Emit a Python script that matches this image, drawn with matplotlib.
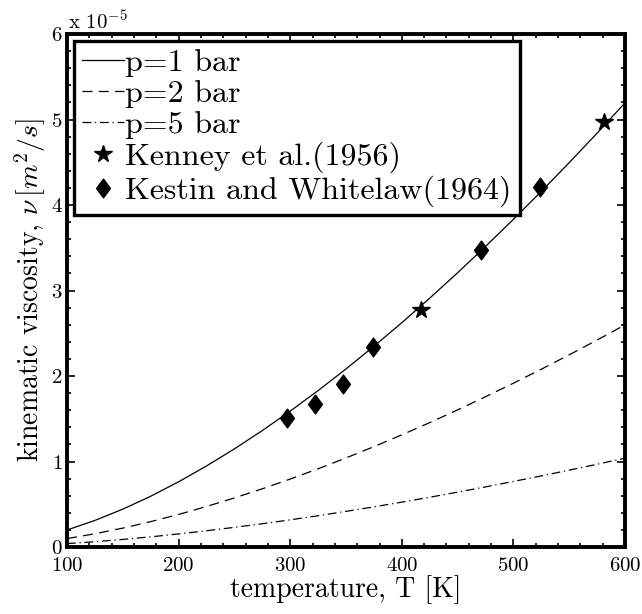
import numpy as np
import matplotlib
matplotlib.use("Agg")
import matplotlib.pyplot as plt
from matplotlib.path import Path
from matplotlib.ticker import AutoMinorLocator, MultipleLocator

# Temperature grid [K] and kinematic viscosity (units of 1e-5 m^2/s)
temp = [100, 125, 150, 175, 200, 225, 250, 275, 300, 325, 350,
        375, 400, 425, 450, 475, 500, 525, 550, 575, 600]
nu_1bar = [0.199, 0.311, 0.443, 0.594, 0.763, 0.948, 1.148, 1.362, 1.590, 1.830, 2.083,
           2.348, 2.624, 2.911, 3.208, 3.516, 3.833, 4.160, 4.496, 4.841, 5.195]
nu_2bar = [0.099, 0.155, 0.221, 0.297, 0.381, 0.474, 0.574, 0.681, 0.795, 0.915, 1.042,
           1.174, 1.312, 1.455, 1.604, 1.758, 1.916, 2.080, 2.248, 2.421, 2.598]
nu_5bar = [0.040, 0.062, 0.089, 0.119, 0.153, 0.190, 0.230, 0.272, 0.318, 0.366, 0.417,
           0.470, 0.525, 0.582, 0.642, 0.703, 0.767, 0.832, 0.899, 0.968, 1.039]

# Measured points
kenney_T = [417, 581]
kenney_nu = [2.77, 4.97]
kestin_T = [297, 322, 347, 374.5, 470.5, 524]
kestin_nu = [1.51, 1.67, 1.91, 2.34, 3.47, 4.21]

labels = ["p=1 bar", "p=2 bar", "p=5 bar", "Kenney et al.(1956)", "Kestin and Whitelaw(1964)"]

plt.rcParams["font.family"] = "cmr10"
plt.rcParams["mathtext.fontset"] = "cm"
plt.rcParams["axes.unicode_minus"] = False
plt.rcParams["axes.formatter.use_mathtext"] = True

# MATLAB-style diamond (a bit wider than the thin one)
diamond = Path([(0, 1), (0.74, 0), (0, -1), (-0.74, 0), (0, 1)],
               [Path.MOVETO, Path.LINETO, Path.LINETO, Path.LINETO, Path.CLOSEPOLY])

fig = plt.figure(figsize=(6.42, 6.14), dpi=100)
ax = fig.add_axes([0.1044, 0.1091, 0.8692, 0.8355])

ax.plot(temp, nu_1bar, color="black", lw=0.9, label=labels[0])
ax.plot(temp, nu_2bar, color="black", lw=0.9, linestyle=(0, (8, 5)), label=labels[1])
ax.plot(temp, nu_5bar, color="black", lw=0.9, linestyle=(0, (7, 3, 1, 3)), label=labels[2])
ax.plot(kenney_T, kenney_nu, linestyle="none", marker="*", color="black",
        markersize=13, label=labels[3])
ax.plot(kestin_T, kestin_nu, linestyle="none", marker=diamond, color="black",
        markersize=13.5, label=labels[4])

ax.set_xlim(100, 600)
ax.set_ylim(0, 6)
ax.xaxis.set_major_locator(MultipleLocator(100))
ax.yaxis.set_major_locator(MultipleLocator(1))
ax.xaxis.set_minor_locator(AutoMinorLocator(5))
ax.yaxis.set_minor_locator(AutoMinorLocator(5))
ax.tick_params(which="both", direction="in", top=True, right=True, labelsize=15, width=1.2)
ax.tick_params(which="major", length=6)
ax.tick_params(which="minor", length=3)
ax.tick_params(axis="x", which="major", pad=7)
ax.tick_params(axis="y", which="major", pad=3)
for sp in ax.spines.values():
    sp.set_linewidth(2.8)

ax.set_xlabel("temperature, T [K]", fontsize=20, labelpad=0)
ax.set_ylabel(r"kinematic viscosity, $\nu\,[m^2/s]$", fontsize=20, labelpad=2)

# exponent note above the y axis
fig.text(68 / 642, 1 - 29 / 614, r"x 10$^{-5}$", fontsize=15, ha="left", va="baseline")

leg = ax.legend(loc="upper left", fontsize=23, frameon=True, fancybox=False,
                edgecolor="black", framealpha=1, borderaxespad=0.22, borderpad=0.25,
                handlelength=1.3, handletextpad=0.05, labelspacing=0.08)
leg.get_frame().set_linewidth(2.4)

fig.savefig("out.png", dpi=100)
